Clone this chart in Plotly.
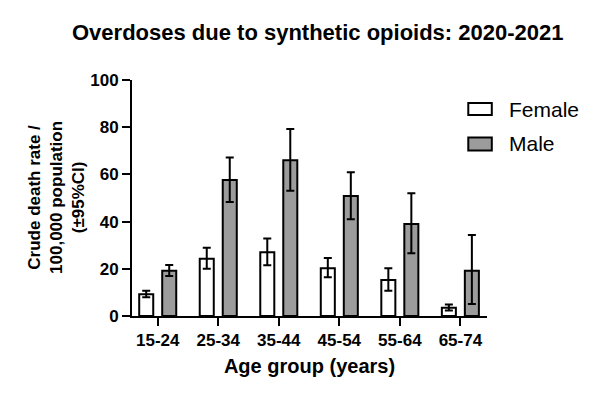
import plotly.graph_objects as go

age_groups = ["15-24", "25-34", "35-44", "45-54", "55-64", "65-74"]
female = [9.2, 24.3, 27.0, 20.2, 15.3, 3.5]
female_hi = [10.7, 28.9, 32.8, 24.6, 20.2, 4.9]
female_lo = [7.9, 20.0, 21.5, 16.4, 10.7, 2.3]
male = [19.2, 57.6, 66.0, 50.8, 39.0, 19.2]
male_hi = [21.6, 67.2, 79.2, 60.9, 52.0, 34.3]
male_lo = [16.9, 48.3, 53.1, 41.0, 26.6, 5.1]

FONT = "Liberation Sans, Arial, sans-serif"
GRAY = "#9c9c9c"
W, H = 600, 420
L, R, T, B = 132, 600 - 486.7, 80, 104
PW, PH = W - L - R, H - T - B

def px(x):
    return (x - L) / PW

def py(y):
    return (H - B - y) / PH

def err(vals, hi, lo):
    return dict(type="data", symmetric=False,
                array=[h - v for v, h in zip(vals, hi)],
                arrayminus=[v - l for v, l in zip(vals, lo)],
                color="black", thickness=2, width=4)

fig = go.Figure()
fig.add_bar(x=age_groups, y=female, name="Female",
            marker=dict(color="white", line=dict(color="black", width=2)),
            error_y=err(female, female_hi, female_lo), showlegend=False)
fig.add_bar(x=age_groups, y=male, name="Male",
            marker=dict(color=GRAY, line=dict(color="black", width=2)),
            error_y=err(male, male_hi, male_lo), showlegend=False)

fig.update_layout(
    width=W, height=H,
    margin=dict(l=L, r=R, t=T, b=B),
    paper_bgcolor="white", plot_bgcolor="white",
    barmode="group", bargap=0.24, bargroupgap=0.39,
    font=dict(family=FONT, color="black"),
    xaxis=dict(range=[-0.425, 5.44], showline=True, linecolor="black", linewidth=2,
               ticks="outside", ticklen=8, tickwidth=2, tickcolor="black",
               showgrid=False, zeroline=False,
               tickfont=dict(family=FONT, size=17, color="black", weight="bold"),
               title=dict(text="<b>Age group (years)</b>", font=dict(size=20), standoff=10)),
    yaxis=dict(range=[0, 100], dtick=20, showline=True, linecolor="black", linewidth=2,
               ticks="outside", ticklen=8, tickwidth=2, tickcolor="black",
               showgrid=False, zeroline=False,
               tickfont=dict(family=FONT, size=17, color="black", weight="bold")),
)

annotations = [
    dict(text="<b>Overdoses due to synthetic opioids: 2020-2021</b>", x=px(317.5), y=py(32),
         xref="paper", yref="paper", showarrow=False, font=dict(size=22),
         xanchor="center", yanchor="middle"),
    dict(text="<b>Crude death rate /<br>100,000 population<br>(±95%CI)</b>",
         x=px(56), y=py(197), xref="paper", yref="paper", showarrow=False,
         textangle=-90, font=dict(size=17), xanchor="center", yanchor="middle"),
    dict(text="Female", x=px(507), y=py(109), xref="paper", yref="paper", showarrow=False,
         font=dict(size=21), xanchor="left", yanchor="middle"),
    dict(text="Male", x=px(507), y=py(143.5), xref="paper", yref="paper", showarrow=False,
         font=dict(size=21), xanchor="left", yanchor="middle"),
]
fig.update_layout(annotations=annotations)

shapes = [
    dict(type="rect", xref="paper", yref="paper", x0=px(468), x1=px(491.5),
         y0=py(115), y1=py(103), fillcolor="white", line=dict(color="black", width=2)),
    dict(type="rect", xref="paper", yref="paper", x0=px(468), x1=px(491.5),
         y0=py(150.5), y1=py(137.5), fillcolor=GRAY, line=dict(color="black", width=2)),
]
fig.update_layout(shapes=shapes)

fig.write_html("out.html", config={"displayModeBar": False},
               post_script="document.body.style.margin='0';")
